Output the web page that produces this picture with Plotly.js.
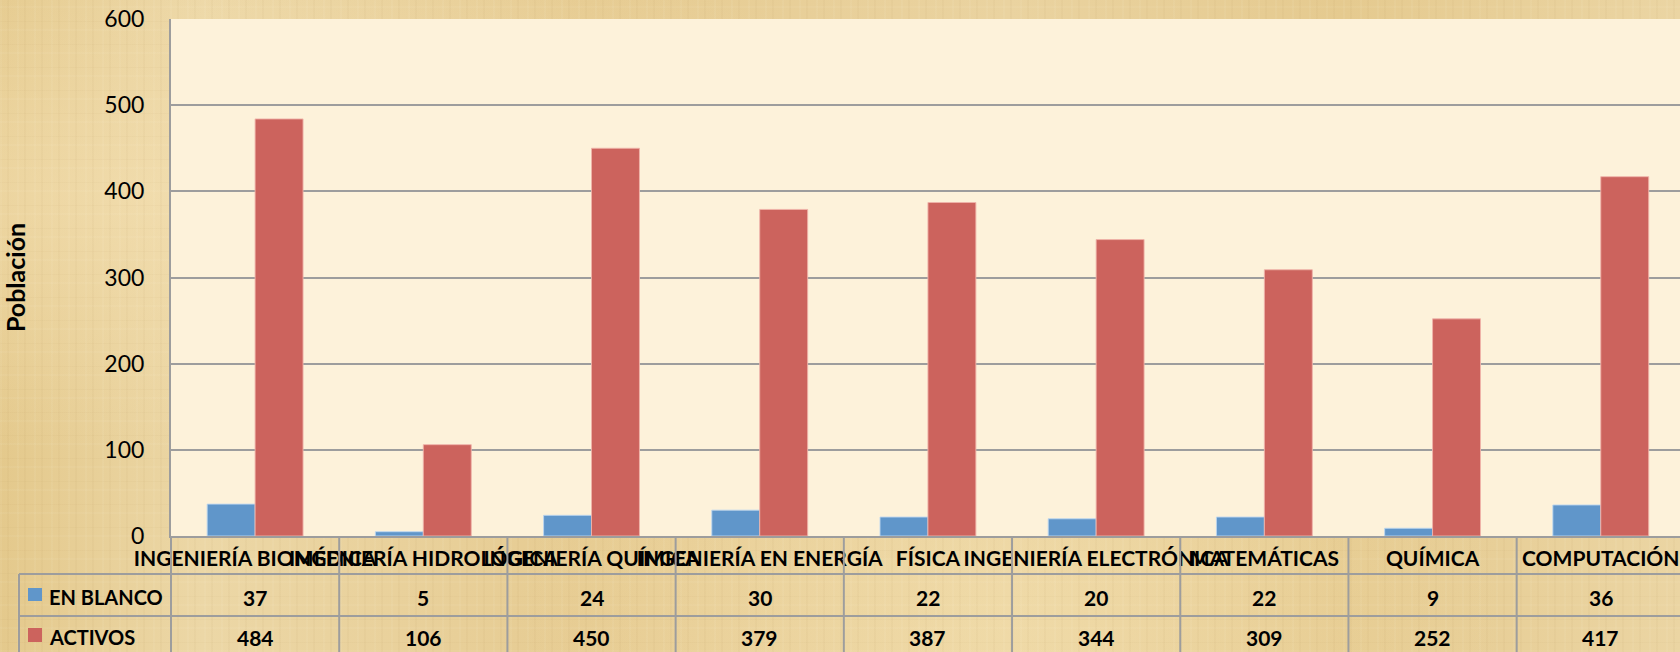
<!DOCTYPE html>
<html>
<head>
<meta charset="utf-8">
<script src="https://cdn.plot.ly/plotly-3.0.1.min.js"></script>
<style>
html, body { margin:0; padding:0; width:1680px; height:652px; overflow:hidden; }
body {
  background-color:#e8cf98;
  background-image:
    repeating-linear-gradient(90deg, rgba(255,250,230,0.06) 0 2px, rgba(0,0,0,0) 2px 7px, rgba(140,100,40,0.035) 7px 9px, rgba(0,0,0,0) 9px 17px),
    repeating-linear-gradient(0deg, rgba(255,250,230,0.05) 0 2px, rgba(0,0,0,0) 2px 9px, rgba(140,100,40,0.03) 9px 10px, rgba(0,0,0,0) 10px 23px),
    radial-gradient(ellipse at 10% 30%, rgba(245,225,180,0.6), rgba(0,0,0,0) 40%),
    radial-gradient(ellipse at 60% 95%, rgba(245,225,175,0.5), rgba(0,0,0,0) 35%),
    linear-gradient(90deg, #e4c98c 0%, #ecd7a6 12%, #e6cb91 35%, #ead3a0 60%, #e5ca8f 80%, #ebd5a3 100%);
}
#chart { width:1680px; height:652px; }
</style>
</head>
<body>
<div id="chart"></div>
<script>
// ---- data ----
const categories = ['INGENIERÍA BIOMÉDICA', 'INGENIERÍA HIDROLÓGICA', 'INGENIERÍA QUÍMICA', 'INGENIERÍA EN ENERGÍA', 'FÍSICA', 'INGENIERÍA ELECTRÓNICA', 'MATEMÁTICAS', 'QUÍMICA', 'COMPUTACIÓN'];
const enBlanco = [37, 5, 24, 30, 22, 20, 22, 9, 36];
const activos = [484, 106, 450, 379, 387, 344, 309, 252, 417];
const seriesNames = ['EN BLANCO', 'ACTIVOS'];
const yTickVals = [0, 100, 200, 300, 400, 500, 600];
const yTitle = 'Población';

// ---- layout geometry (pixels) ----
const W = 1680, H = 652, ML = 171, MR = 0, MT = 19, MB = 116;
const plotW = W - ML - MR, plotH = H - MT - MB;
const px = x => (x - ML) / plotW;          // pixel x -> paper x
const py = y => (H - MB - y) / plotH;      // pixel y -> paper y

const colBlue = '#6096ca', colRed = '#cc635d';
const lineCol = '#9d9d9d';
const FONT = 'Lato, "Open Sans", sans-serif';

const traces = [
  { type:'bar', name:seriesNames[0], x:categories, y:enBlanco,
    marker:{color:colBlue, line:{color:'rgba(190,215,240,0.9)', width:1}}, hoverinfo:'skip' },
  { type:'bar', name:seriesNames[1], x:categories, y:activos,
    marker:{color:colRed, line:{color:'rgba(240,180,170,0.9)', width:1}}, hoverinfo:'skip' }
];

// table rows (pixel rows)
const rowTop = [574, 616];
const rowTextY = [597, 637];
const shapes = [];
const annotations = [];

// horizontal table lines
rowTop.forEach(y => shapes.push({type:'line', xref:'paper', yref:'paper', x0:px(19), x1:1.02, y0:py(y), y1:py(y), line:{color:lineCol, width:2}}));
// left border of legend column
shapes.push({type:'line', xref:'paper', yref:'paper', x0:px(19), x1:px(19), y0:py(574), y1:py(680), line:{color:lineCol, width:2}});
// plot left edge extended down
shapes.push({type:'line', xref:'paper', yref:'paper', x0:0, x1:0, y0:0, y1:py(680), line:{color:lineCol, width:2}});
// category boundaries
for (let i = 1; i < categories.length; i++) {
  shapes.push({type:'line', xref:'x', yref:'paper', x0:i - 0.5, x1:i - 0.5, y0:0, y1:py(680), line:{color:lineCol, width:2}});
}
// legend keys + names
const keyCols = [colBlue, colRed];
const keyY = [[588, 601], [628, 642]];
seriesNames.forEach((n, k) => {
  shapes.push({type:'rect', xref:'paper', yref:'paper', x0:px(28), x1:px(42), y0:py(keyY[k][1]), y1:py(keyY[k][0]), fillcolor:keyCols[k], line:{width:0}});
  annotations.push({xref:'paper', yref:'paper', x:px(47), y:py(rowTextY[k]), xanchor:'left', yanchor:'middle', showarrow:false, text:n,
    font:{family:FONT, size:20, color:'#000', weight:'bold'}});
});
// values
[enBlanco, activos].forEach((arr, k) => {
  arr.forEach((v, i) => annotations.push({xref:'x', yref:'paper', x:categories[i], y:py(rowTextY[k]), xanchor:'center', yanchor:'middle', showarrow:false, text:String(v),
    font:{family:FONT, size:21, color:'#000', weight:'bold'}}));
});

const layout = {
  width:W, height:H,
  margin:{l:ML, r:MR, t:MT, b:MB, pad:0},
  paper_bgcolor:'rgba(0,0,0,0)',
  plot_bgcolor:'#fdf2da',
  showlegend:false,
  barmode:'group', bargap:0.43, bargroupgap:0,
  font:{family:FONT, color:'#000'},
  xaxis:{
    type:'category', range:[-0.5, 8.471], tickangle:0, automargin:false,
    showgrid:false, showline:true, linecolor:lineCol, linewidth:2, ticks:'',
    tickfont:{family:FONT, size:21, color:'#000', weight:'bold'}, ticklabelstandoff:3
  },
  yaxis:{
    range:[0, 600], tickvals:yTickVals, automargin:false,
    showgrid:true, gridcolor:lineCol, gridwidth:2, zeroline:false,
    showline:true, linecolor:lineCol, linewidth:2,
    ticks:'outside', ticklen:20, tickcolor:'rgba(0,0,0,0)',
    tickfont:{family:FONT, size:23, color:'#000'},
    title:{text:yTitle, standoff:74, font:{family:FONT, size:25, color:'#000', weight:'bold'}}
  },
  shapes:shapes,
  annotations:annotations
};

Plotly.newPlot('chart', traces, layout, {staticPlot:true, displayModeBar:false});
</script>
</body>
</html>
